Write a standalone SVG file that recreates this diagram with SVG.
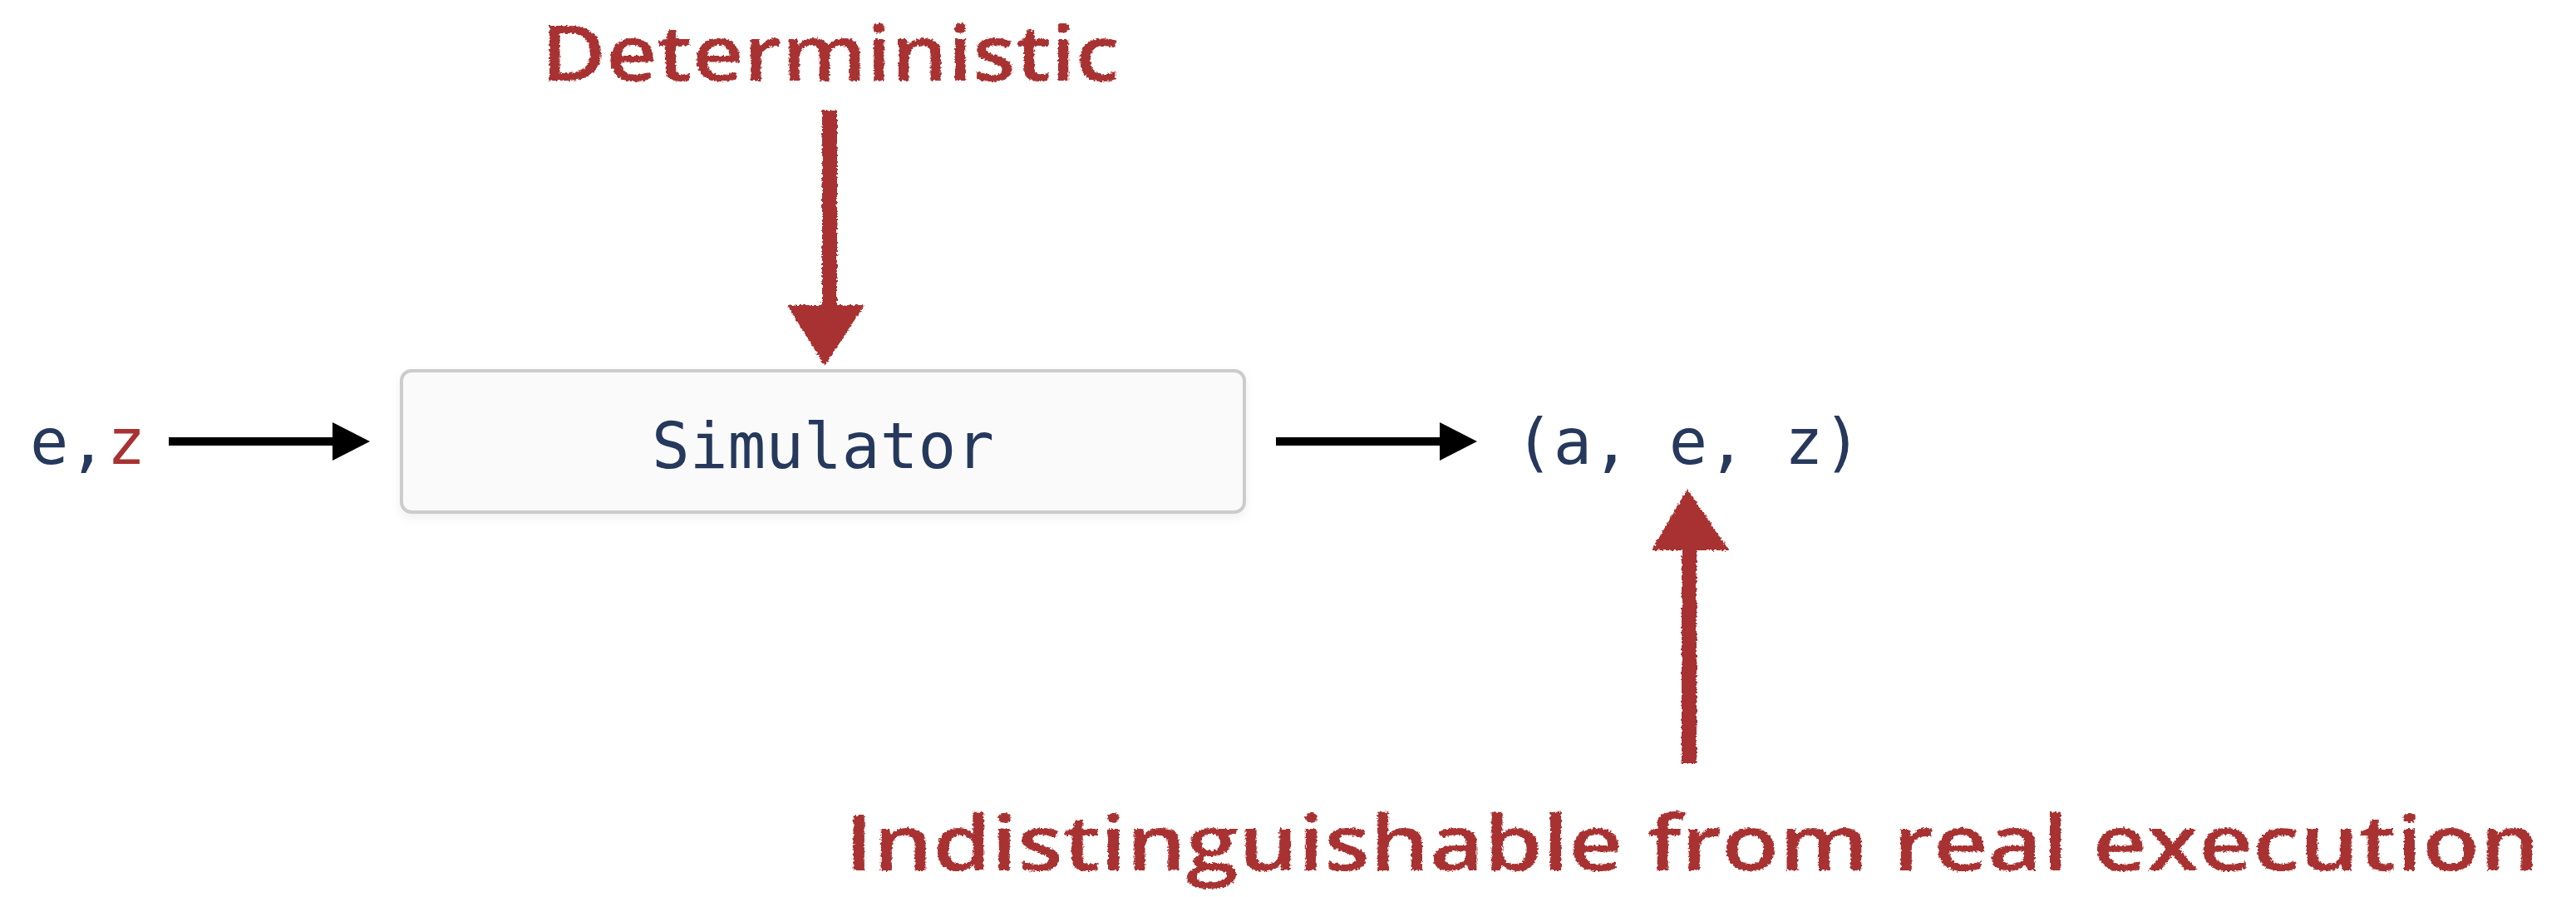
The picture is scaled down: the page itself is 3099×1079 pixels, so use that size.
<svg xmlns="http://www.w3.org/2000/svg" width="3099" height="1079" viewBox="0 0 3099 1079">
  <style>
    .mono { font-family: "DejaVu Sans Mono", "Liberation Mono", monospace; fill: #26395c; }
    .hand { font-family: "Open Sans", "Liberation Sans", sans-serif; font-weight: 600; fill: #a83232; }
    .red { fill: #a83232; }
    .black-arrow { stroke: #000; stroke-width: 10; fill: none; }
  </style>
  <defs>
    <marker id="head" viewBox="0 0 45 46" refX="2" refY="23" markerWidth="45" markerHeight="46" markerUnits="userSpaceOnUse" orient="auto">
      <path d="M0,0 L45,23 L0,46 z" fill="#000"/>
    </marker>
    <filter id="chalk" x="-10%" y="-25%" width="120%" height="150%">
      <feTurbulence type="fractalNoise" baseFrequency="0.35" numOctaves="2" seed="4" result="n"/>
      <feDisplacementMap in="SourceGraphic" in2="n" scale="5" xChannelSelector="R" yChannelSelector="G"/>
    </filter>
    <filter id="shadow" x="-5%" y="-20%" width="110%" height="150%">
      <feDropShadow dx="0" dy="5" stdDeviation="6" flood-color="#000" flood-opacity="0.06"/>
    </filter>
  </defs>
  <rect width="3099" height="1079" fill="#fff"/>

  <g id="input">
    <text class="mono" x="36" y="558" font-size="77">e,<tspan fill="#a83232">z</tspan></text>
  </g>

  <g id="simulator">
    <rect x="483" y="446" width="1014" height="170" rx="12" ry="12" fill="#fafafa" stroke="#cccccc" stroke-width="4" filter="url(#shadow)"/>
    <text class="mono" x="990" y="563" font-size="76" text-anchor="middle">Simulator</text>
  </g>

  <g id="output">
    <text class="mono" x="2031" y="558" font-size="77" text-anchor="middle">(a, e, z)</text>
  </g>

  <g id="label-deterministic">
    <text class="hand" x="651" y="97" font-size="93" textLength="696" lengthAdjust="spacingAndGlyphs" filter="url(#chalk)">Deterministic</text>
  </g>

  <g id="label-indistinguishable">
    <text class="hand" x="1016" y="1047" font-size="92" textLength="2039" lengthAdjust="spacingAndGlyphs" filter="url(#chalk)">Indistinguishable from real execution</text>
  </g>

  <g id="connectors">
    <line class="black-arrow" x1="203" y1="531" x2="402" y2="531" marker-end="url(#head)"/>
    <line class="black-arrow" x1="1535" y1="531" x2="1734" y2="531" marker-end="url(#head)"/>
    <g class="red" filter="url(#chalk)">
      <rect x="989" y="133" width="18" height="240"/>
      <polygon points="947,367 1040,367 992,440"/>
    </g>
    <g class="red" filter="url(#chalk)">
      <polygon points="2030,588 2080,662 1987,662"/>
      <rect x="2023" y="655" width="18" height="263"/>
    </g>
  </g>
</svg>
